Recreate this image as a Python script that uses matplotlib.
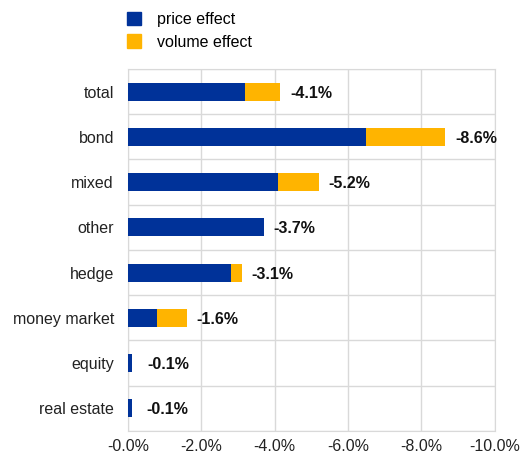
import numpy as np
import matplotlib.pyplot as plt
from matplotlib.patches import Patch

plt.rcParams['font.family'] = ['Liberation Sans', 'DejaVu Sans']

categories = ['total', 'bond', 'mixed', 'other', 'hedge', 'money market', 'equity', 'real estate']
price = [-3.2, -6.5, -4.1, -3.7, -2.8, -0.8, -0.1, -0.1]
volume = [-0.95, -2.15, -1.1, 0.0, -0.3, -0.8, -0.02, 0.0]
totals = [-4.1, -8.6, -5.2, -3.7, -3.1, -1.6, -0.1, -0.1]
xticks = [-0.0, -2.0, -4.0, -6.0, -8.0, -10.0]

blue = '#003299'
orange = '#FFB400'
grey = '#d9d9d9'
fs = 11.5

fig = plt.figure(figsize=(5.22, 4.57), dpi=100)
ax = fig.add_axes([0.245, 0.057, 0.703, 0.792])

y = np.arange(len(categories))
ax.barh(y, price, height=0.4, color=blue, zorder=3)
ax.barh(y, volume, left=price, height=0.4, color=orange, zorder=3)

for i, t in enumerate(totals):
    end = price[i] + volume[i]
    # small bars get their label pushed a little further out, as in the original
    off = 7 if abs(end) > 1 else 11
    ax.annotate(f'{t:.1f}%', xy=(min(end, -0.1), i), xytext=(off, 0), textcoords='offset points',
                ha='left', va='center_baseline', fontsize=fs, fontweight='bold', color='#111111')

ax.set_xlim(0, -10)
ax.set_ylim(len(categories) - 0.5, -0.5)
ax.set_xticks(xticks)
ax.set_xticklabels([f'{v:.1f}%' for v in xticks])
ax.set_yticks(y)
ax.set_yticklabels(categories)
ax.set_yticks(np.arange(-0.5, len(categories), 1), minor=True)
ax.tick_params(axis='both', which='both', length=0, labelsize=fs, colors='#222222')
ax.tick_params(axis='y', pad=10)
ax.tick_params(axis='x', pad=6)
ax.grid(axis='x', which='major', color=grey, linewidth=1, zorder=0)
ax.grid(axis='y', which='minor', color=grey, linewidth=1, zorder=0)
for s in ax.spines.values():
    s.set_color(grey)

handles = [Patch(color=blue, label='price effect'), Patch(color=orange, label='volume effect')]
fig.legend(handles=handles, loc='upper left', bbox_to_anchor=(0.215, 1.005), frameon=False,
           fontsize=fs, handlelength=0.9, handleheight=0.9, handletextpad=1.0, labelspacing=0.45)

fig.savefig('out.png', dpi=100)
